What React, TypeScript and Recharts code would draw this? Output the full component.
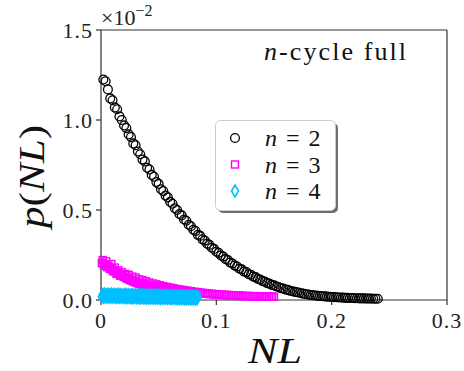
import React from "react";
import { ScatterChart, Scatter, XAxis, YAxis, ReferenceLine } from "recharts";

// n = 2 (values in units of 1e-2)
const n2X = [
  0.002, 0.004, 0.006, 0.008, 0.01, 0.012, 0.014, 0.016, 0.018, 0.02,
  0.022, 0.024, 0.026, 0.028, 0.03, 0.032, 0.034, 0.036, 0.038, 0.04,
  0.042, 0.044, 0.046, 0.048, 0.05, 0.052, 0.054, 0.056, 0.058, 0.06,
  0.062, 0.064, 0.066, 0.068, 0.07, 0.072, 0.074, 0.076, 0.078, 0.08,
  0.082, 0.084, 0.086, 0.088, 0.09, 0.092, 0.094, 0.096, 0.098, 0.1,
  0.102, 0.104, 0.106, 0.108, 0.11, 0.112, 0.114, 0.116, 0.118, 0.12,
  0.122, 0.124, 0.126, 0.128, 0.13, 0.132, 0.134, 0.136, 0.138, 0.14,
  0.142, 0.144, 0.146, 0.148, 0.15, 0.152, 0.154, 0.156, 0.158, 0.16,
  0.162, 0.164, 0.166, 0.168, 0.17, 0.172, 0.174, 0.176, 0.178, 0.18,
  0.182, 0.184, 0.186, 0.188, 0.19, 0.192, 0.194, 0.196, 0.198, 0.2,
  0.202, 0.204, 0.206, 0.208, 0.21, 0.212, 0.214, 0.216, 0.218, 0.22,
  0.222, 0.224, 0.226, 0.228, 0.23, 0.232, 0.234, 0.236, 0.238, 0.24,
];
const n2Y = [
  1.225, 1.215, 1.17, 1.12, 1.11, 1.07, 1.06, 1.02, 1.0, 0.97,
  0.955, 0.92, 0.905, 0.87, 0.86, 0.825, 0.81, 0.78, 0.77, 0.735,
  0.725, 0.695, 0.685, 0.655, 0.645, 0.615, 0.605, 0.58, 0.57, 0.545,
  0.535, 0.51, 0.5, 0.478, 0.47, 0.447, 0.44, 0.418, 0.41, 0.39,
  0.383, 0.362, 0.356, 0.337, 0.33, 0.313, 0.306, 0.29, 0.284, 0.268,
  0.262, 0.247, 0.241, 0.227, 0.222, 0.208, 0.203, 0.191, 0.186, 0.174,
  0.17, 0.158, 0.155, 0.143, 0.14, 0.13, 0.127, 0.117, 0.114, 0.105,
  0.102, 0.094, 0.091, 0.084, 0.081, 0.075, 0.072, 0.066, 0.064, 0.058,
  0.056, 0.051, 0.049, 0.045, 0.043, 0.04, 0.037, 0.035, 0.032, 0.03,
  0.028, 0.026, 0.025, 0.023, 0.022, 0.021, 0.02, 0.019, 0.018, 0.017,
  0.016, 0.015, 0.014, 0.014, 0.013, 0.012, 0.012, 0.011, 0.011, 0.01,
  0.01, 0.009, 0.009, 0.009, 0.008, 0.008, 0.008, 0.007, 0.007, 0.007,
];

// n = 3, first sample set
const n3X = [
  0.0015, 0.003, 0.0045, 0.006, 0.0075, 0.009, 0.0105, 0.012, 0.0135, 0.015,
  0.0165, 0.018, 0.0195, 0.021, 0.0225, 0.024, 0.0255, 0.027, 0.0285, 0.03,
  0.0315, 0.033, 0.0345, 0.036, 0.0375, 0.039, 0.0405, 0.042, 0.0435, 0.045,
  0.0465, 0.048, 0.0495, 0.051, 0.0525, 0.054, 0.0555, 0.057, 0.0585, 0.06,
  0.0615, 0.063, 0.0645, 0.066, 0.0675, 0.069, 0.0705, 0.072, 0.0735, 0.075,
  0.0765, 0.078, 0.0795, 0.081, 0.0825, 0.084, 0.0855, 0.087, 0.0885, 0.09,
  0.0915, 0.093, 0.0945, 0.096, 0.0975, 0.099, 0.1005, 0.102, 0.1035, 0.105,
  0.1065, 0.108, 0.1095, 0.111, 0.1125, 0.114, 0.1155, 0.117, 0.1185, 0.12,
  0.1215, 0.123, 0.1245, 0.126, 0.1275, 0.129, 0.1305, 0.132, 0.1335, 0.135,
  0.1365, 0.138, 0.1395, 0.141, 0.1425, 0.144, 0.1455, 0.147, 0.1485, 0.15,
];
const n3Y = [
  0.222, 0.19, 0.215, 0.19, 0.175, 0.2, 0.16, 0.18, 0.145, 0.165,
  0.135, 0.155, 0.13, 0.145, 0.12, 0.14, 0.115, 0.13, 0.105, 0.125,
  0.1, 0.115, 0.095, 0.11, 0.09, 0.104, 0.086, 0.097, 0.08, 0.092,
  0.077, 0.087, 0.073, 0.082, 0.069, 0.077, 0.065, 0.073, 0.061, 0.069,
  0.058, 0.065, 0.055, 0.061, 0.052, 0.058, 0.049, 0.055, 0.046, 0.052,
  0.044, 0.049, 0.042, 0.046, 0.04, 0.044, 0.038, 0.041, 0.036, 0.039,
  0.034, 0.037, 0.032, 0.035, 0.031, 0.033, 0.029, 0.032, 0.028, 0.03,
  0.027, 0.029, 0.026, 0.028, 0.025, 0.027, 0.024, 0.026, 0.023, 0.025,
  0.022, 0.024, 0.021, 0.023, 0.021, 0.022, 0.02, 0.022, 0.02, 0.021,
  0.019, 0.021, 0.019, 0.02, 0.018, 0.02, 0.018, 0.019, 0.018, 0.019,
];

// n = 3, second sample set (fills the thick part of the band)
const n3X2 = [
  0.00075, 0.00225, 0.00375, 0.00525, 0.00675, 0.00825, 0.00975, 0.01125, 0.01275, 0.01425,
  0.01575, 0.01725, 0.01875, 0.02025, 0.02175, 0.02325, 0.02475, 0.02625, 0.02775, 0.02925,
  0.03075, 0.03225, 0.03375, 0.03525, 0.03675, 0.03825, 0.03975, 0.04125, 0.04275, 0.04425,
  0.04575, 0.04725, 0.04875, 0.05025, 0.05175, 0.05325, 0.05475, 0.05625, 0.05775, 0.05925,
  0.06075, 0.06225, 0.06375, 0.06525, 0.06675, 0.06825, 0.06975, 0.07125, 0.07275, 0.07425,
];
const n3Y2 = [
  0.205, 0.2, 0.198, 0.182, 0.185, 0.172, 0.17, 0.16, 0.155, 0.15,
  0.145, 0.138, 0.135, 0.128, 0.122, 0.118, 0.112, 0.108, 0.103, 0.1,
  0.096, 0.092, 0.089, 0.086, 0.083, 0.08, 0.077, 0.075, 0.073, 0.07,
  0.068, 0.066, 0.064, 0.062, 0.06, 0.058, 0.057, 0.055, 0.054, 0.052,
  0.051, 0.049, 0.048, 0.047, 0.046, 0.044, 0.043, 0.042, 0.041, 0.04,
];

// n = 4, two sample sets
const n4X = [
  0.0015, 0.003, 0.0045, 0.006, 0.0075, 0.009, 0.0105, 0.012, 0.0135, 0.015,
  0.0165, 0.018, 0.0195, 0.021, 0.0225, 0.024, 0.0255, 0.027, 0.0285, 0.03,
  0.0315, 0.033, 0.0345, 0.036, 0.0375, 0.039, 0.0405, 0.042, 0.0435, 0.045,
  0.0465, 0.048, 0.0495, 0.051, 0.0525, 0.054, 0.0555, 0.057, 0.0585, 0.06,
  0.0615, 0.063, 0.0645, 0.066, 0.0675, 0.069, 0.0705, 0.072, 0.0735, 0.075,
  0.0765, 0.078, 0.0795, 0.081, 0.0825, 0.084,
];
const n4Y = [
  0.03, 0.033, 0.028, 0.031, 0.029, 0.032, 0.028, 0.03, 0.027, 0.031,
  0.028, 0.029, 0.026, 0.03, 0.027, 0.028, 0.025, 0.029, 0.026, 0.028,
  0.025, 0.027, 0.024, 0.027, 0.025, 0.026, 0.023, 0.026, 0.024, 0.025,
  0.022, 0.025, 0.023, 0.024, 0.022, 0.024, 0.021, 0.023, 0.022, 0.023,
  0.02, 0.022, 0.021, 0.022, 0.019, 0.021, 0.02, 0.021, 0.019, 0.02,
  0.018, 0.02, 0.019, 0.019, 0.018, 0.019,
];
const n4X2 = [
  0.00075, 0.00225, 0.00375, 0.00525, 0.00675, 0.00825, 0.00975, 0.01125, 0.01275, 0.01425,
  0.01575, 0.01725, 0.01875, 0.02025, 0.02175, 0.02325, 0.02475, 0.02625, 0.02775, 0.02925,
  0.03075, 0.03225, 0.03375, 0.03525, 0.03675, 0.03825, 0.03975, 0.04125, 0.04275, 0.04425,
  0.04575, 0.04725, 0.04875, 0.05025, 0.05175, 0.05325, 0.05475, 0.05625, 0.05775, 0.05925,
  0.06075, 0.06225, 0.06375, 0.06525, 0.06675, 0.06825, 0.06975, 0.07125, 0.07275, 0.07425,
  0.07575, 0.07725, 0.07875, 0.08025, 0.08175, 0.08325,
];
const n4Y2 = [
  0.018, 0.016, 0.019, 0.017, 0.018, 0.016, 0.017, 0.018, 0.015, 0.017,
  0.016, 0.017, 0.015, 0.016, 0.014, 0.016, 0.015, 0.015, 0.013, 0.015,
  0.014, 0.014, 0.012, 0.014, 0.013, 0.013, 0.012, 0.013, 0.011, 0.013,
  0.012, 0.012, 0.011, 0.012, 0.01, 0.012, 0.011, 0.011, 0.01, 0.011,
  0.009, 0.011, 0.01, 0.01, 0.009, 0.01, 0.009, 0.01, 0.008, 0.009,
  0.008, 0.009, 0.008, 0.008, 0.007, 0.008,
];

const xTicks = [0, 0.1, 0.2, 0.3];
const yTicks = [0, 0.5, 1.0, 1.5];
const legendLabels = ["2", "3", "4"];

const zip = (xs: number[], ys: number[]) => xs.map((x, i) => ({ x, y: ys[i] }));

const SERIF = "'Liberation Serif', serif";
const MAGENTA = "#ff00ff";
const CYAN = "#00bfff";
const AXIS = "#333";

const Circle = (p: any) => (
  <circle cx={p.cx} cy={p.cy} r={4.4} fill="none" stroke="#000" strokeWidth={1.3} />
);
const Square = (p: any) => (
  <rect x={p.cx - 3.5} y={p.cy - 3.5} width={7} height={7} fill="none" stroke={MAGENTA} strokeWidth={1.4} />
);
const Diamond = (p: any) => (
  <path
    d={`M${p.cx},${p.cy - 6} L${p.cx + 3.5},${p.cy} L${p.cx},${p.cy + 6} L${p.cx - 3.5},${p.cy} Z`}
    fill="none"
    stroke={CYAN}
    strokeWidth={1.6}
  />
);
const markers = [Circle, Square, Diamond];

const XTick = ({ x, y, payload }: any) => (
  <text x={x} y={y + 16} textAnchor="middle" fill="#222" fontSize={22} letterSpacing={1}>
    {payload.value === 0 ? "0" : payload.value.toFixed(1)}
  </text>
);
const YTick = ({ x, y, payload }: any) => (
  <text x={x + 1} y={y + 8} textAnchor="end" fill="#222" fontSize={22} letterSpacing={1}>
    {payload.value.toFixed(1)}
  </text>
);

function LegendBox() {
  return (
    <g transform="translate(215,120)">
      <rect x={3} y={3} width={120} height={90} rx={5} fill="#555" opacity={0.85} />
      <rect x={0.5} y={0.5} width={120} height={90} rx={5} fill="#fff" stroke="#ccc" />
      {legendLabels.map((lab, i) => {
        const cy = 18 + i * 26.5;
        const M = markers[i];
        return (
          <g key={lab}>
            <M cx={20} cy={cy} />
            <text x={50} y={cy + 8} fill="#111" fontSize={24}>
              <tspan fontStyle="italic">n</tspan>
              <tspan dx={9}>=</tspan>
              <tspan dx={9}>{lab}</tspan>
            </text>
          </g>
        );
      })}
    </g>
  );
}

export default function App() {
  return (
    <div style={{ position: "absolute", left: 0, top: 0, width: 464, height: 371, background: "#fff" }}>
      <style>{`#root text, #root tspan { font-family: ${SERIF} !important; }`}</style>
      <ScatterChart width={464} height={371} margin={{ top: 30, right: 17, bottom: 0, left: 0 }}>
        <XAxis
          type="number"
          dataKey="x"
          domain={[0, 0.3]}
          ticks={xTicks}
          height={71}
          tickSize={5}
          tickMargin={7}
          tick={<XTick />}
          axisLine={{ stroke: AXIS, strokeWidth: 1.2 }}
          tickLine={{ stroke: AXIS, strokeWidth: 1.2 }}
          interval={0}
        />
        <YAxis
          type="number"
          dataKey="y"
          domain={[0, 1.5]}
          ticks={yTicks}
          width={101}
          tickSize={5}
          tickMargin={4}
          tick={<YTick />}
          axisLine={{ stroke: AXIS, strokeWidth: 1.2 }}
          tickLine={{ stroke: AXIS, strokeWidth: 1.2 }}
          interval={0}
        />
        <ReferenceLine y={1.5} stroke={AXIS} strokeWidth={1.2} />
        <ReferenceLine x={0.3} stroke={AXIS} strokeWidth={1.2} />
        <Scatter name="n = 2" data={zip(n2X, n2Y)} shape={Circle} isAnimationActive={false} />
        <Scatter name="n = 3" data={zip(n3X, n3Y)} shape={Square} isAnimationActive={false} />
        <Scatter name="n = 3 (b)" data={zip(n3X2, n3Y2)} shape={Square} isAnimationActive={false} />
        <Scatter name="n = 4" data={zip(n4X, n4Y)} shape={Diamond} isAnimationActive={false} />
        <Scatter name="n = 4 (b)" data={zip(n4X2, n4Y2)} shape={Diamond} isAnimationActive={false} />
      </ScatterChart>
      <svg width={464} height={371} style={{ position: "absolute", left: 0, top: 0, pointerEvents: "none" }}>
        <text x={101} y={25} fill="#222" fontSize={22}>
          ×10
          <tspan dy={-9} fontSize={16}>−2</tspan>
        </text>
        <text x={264} y={60} fill="#111" fontSize={26} textLength={142} lengthAdjust="spacing">
          <tspan fontStyle="italic">n</tspan>-cycle full
        </text>
        <text
          x={0}
          y={0}
          transform="translate(44,228) rotate(-90)"
          fill="#111"
          fontSize={35}
          textLength={103}
          lengthAdjust="spacingAndGlyphs"
        >
          <tspan fontStyle="italic">p</tspan>(<tspan fontStyle="italic">NL</tspan>)
        </text>
        <text x={248} y={363} fill="#111" fontSize={35} fontStyle="italic" textLength={54} lengthAdjust="spacingAndGlyphs">
          NL
        </text>
        <LegendBox />
      </svg>
    </div>
  );
}
